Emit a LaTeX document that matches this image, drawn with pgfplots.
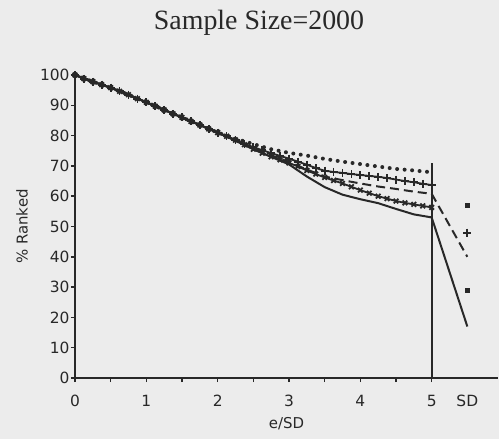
\documentclass[border=0pt]{standalone}
\usepackage{pgfplots}
\pgfplotsset{compat=1.18}
\usepackage{fontspec}
\setmainfont{Liberation Serif}
\newfontfamily\plotfont{DejaVu Sans}
\definecolor{bg}{RGB}{236,236,236}
\definecolor{ink}{RGB}{40,40,40}
\begin{document}
\begin{tikzpicture}
\fill[bg] (-75bp,-61bp) rectangle (424bp,378bp);
\useasboundingbox (-75bp,-61bp) rectangle (424bp,378bp);
\begin{axis}[
  scale only axis, width=423bp, height=303bp,
  xmin=0, xmax=5.93, ymin=0, ymax=100,
  axis x line*=bottom, axis y line*=left,
  axis line style={-, ink, line width=2bp},
  xtick={0,1,2,3,4,5},
  xticklabels={0,1,2,3,4,5},
  minor xtick={0.5,1.5,2.5,3.5,4.5},
  extra x ticks={5.5}, extra x tick labels={SD},
  extra x tick style={tick style={draw=none}},
  ytick={0,10,...,100},
  tick style={ink, line width=1.5bp},
  minor tick length=4bp,
  major tick length=4bp,
  tick align=outside,
  /pgf/number format/assume math mode=true,
  ticklabel style={font=\plotfont\fontsize{15.5}{17}\selectfont, text=ink},
  xticklabel style={yshift=-10bp},
  yticklabel style={xshift=2bp},
  xlabel={e/SD}, ylabel={\% Ranked},
  label style={font=\plotfont\fontsize{15}{17}\selectfont, text=ink},
  xlabel style={at={(axis description cs:0.5,0)}, anchor=base, yshift=-50bp},
  every axis y label/.append style={at={(axis description cs:-0.125,0.5)}, anchor=center},
  clip=false,
]
% vertical line at x=5
\addplot[ink, line width=2bp] coordinates {(5,0) (5,71)};
% dotted series (top)
\addplot[ink, line width=4bp, line cap=round, dash pattern=on 0pt off 7.5bp] coordinates {
(0,100) (0.25,97.8) (0.5,95.8) (0.75,93.5) (1,91) (1.25,88.5) (1.5,86) (1.75,83.5) (2,81) (2.25,79)
(2.5,77.2) (2.75,75.5) (3,74.3) (3.25,73.4) (3.5,72.3) (3.75,71.4) (4,70.6) (4.25,69.8) (4.5,69) (4.75,68.5) (5,67.9)};
\addplot[ink, only marks, mark=square*, mark size=2bp] coordinates {(5.5,57)};
% plus series
\addplot[ink, line width=1.8bp, mark=+, mark size=4bp, mark options={line width=1.8bp}] coordinates {
(0,100) (0.125,98.8) (0.25,97.8) (0.375,96.8) (0.5,95.8) (0.625,94.6) (0.75,93.5) (0.875,92.2) (1,91)
(1.125,89.7) (1.25,88.5) (1.375,87.2) (1.5,86) (1.625,84.7) (1.75,83.5) (1.875,82.2) (2,81) (2.125,79.8)
(2.25,78.5) (2.375,77.3) (2.5,76.2) (2.625,75.2) (2.75,74.2) (2.875,73.3) (3,72.4) (3.125,71.4) (3.25,70.4)
(3.375,69.3) (3.5,68.4) (3.625,68) (3.75,67.7) (3.875,67.3) (4,67) (4.125,66.7) (4.25,66.4) (4.375,66)
(4.5,65.5) (4.625,65) (4.75,64.6) (4.875,64.1) (5,63.7)};
\addplot[ink, only marks, mark=+, mark size=4bp, mark options={line width=2bp}] coordinates {(5.5,48)};
% dashed series
\addplot[ink, line width=2bp, dash pattern=on 9bp off 5bp] coordinates {
(0,100) (0.25,97.8) (0.5,95.8) (0.75,93.5) (1,91) (1.25,88.5) (1.5,86) (1.75,83.5) (2,81) (2.25,78.5)
(2.5,75.8) (2.75,73.5) (3,71.3) (3.25,68.8) (3.5,66.5) (3.75,65.3) (4,64.2) (4.25,63.2) (4.5,62.4) (4.75,61.5) (5,60.8) (5.5,40)};
% x series
\addplot[ink, line width=1.8bp, mark=x, mark size=3.3bp, mark options={line width=1.8bp}] coordinates {
(0,100) (0.125,98.8) (0.25,97.8) (0.375,96.8) (0.5,95.8) (0.625,94.6) (0.75,93.5) (0.875,92.2) (1,91)
(1.125,89.7) (1.25,88.5) (1.375,87.2) (1.5,86) (1.625,84.7) (1.75,83.5) (1.875,82.2) (2,81) (2.125,79.8)
(2.25,78.5) (2.375,77) (2.5,75.5) (2.625,74.2) (2.75,73) (2.875,72) (3,71) (3.125,69.8) (3.25,68.5)
(3.375,67.3) (3.5,66.2) (3.625,65.2) (3.75,64.2) (3.875,63.1) (4,62) (4.125,61) (4.25,60) (4.375,59.2)
(4.5,58.4) (4.625,57.8) (4.75,57.3) (4.875,56.8) (5,56.3)};
\addplot[ink, only marks, mark=square*, mark size=2bp] coordinates {(5.5,29)};
% solid series (bottom)
\addplot[ink, line width=2bp] coordinates {
(0,100) (0.25,97.8) (0.5,95.8) (0.75,93.5) (1,91) (1.25,88.5) (1.5,86) (1.75,83.5) (2,81) (2.25,78.3)
(2.5,75.5) (2.75,73) (3,70.5) (3.25,66.5) (3.5,63) (3.75,60.5) (4,59) (4.25,57.7) (4.5,55.8) (4.75,54) (5,53) (5.5,17)};
\end{axis}
\node[anchor=base, font=\fontsize{28}{32}\selectfont, text=ink] at (184bp,348bp) {Sample Size=2000};
\end{tikzpicture}
\end{document}
